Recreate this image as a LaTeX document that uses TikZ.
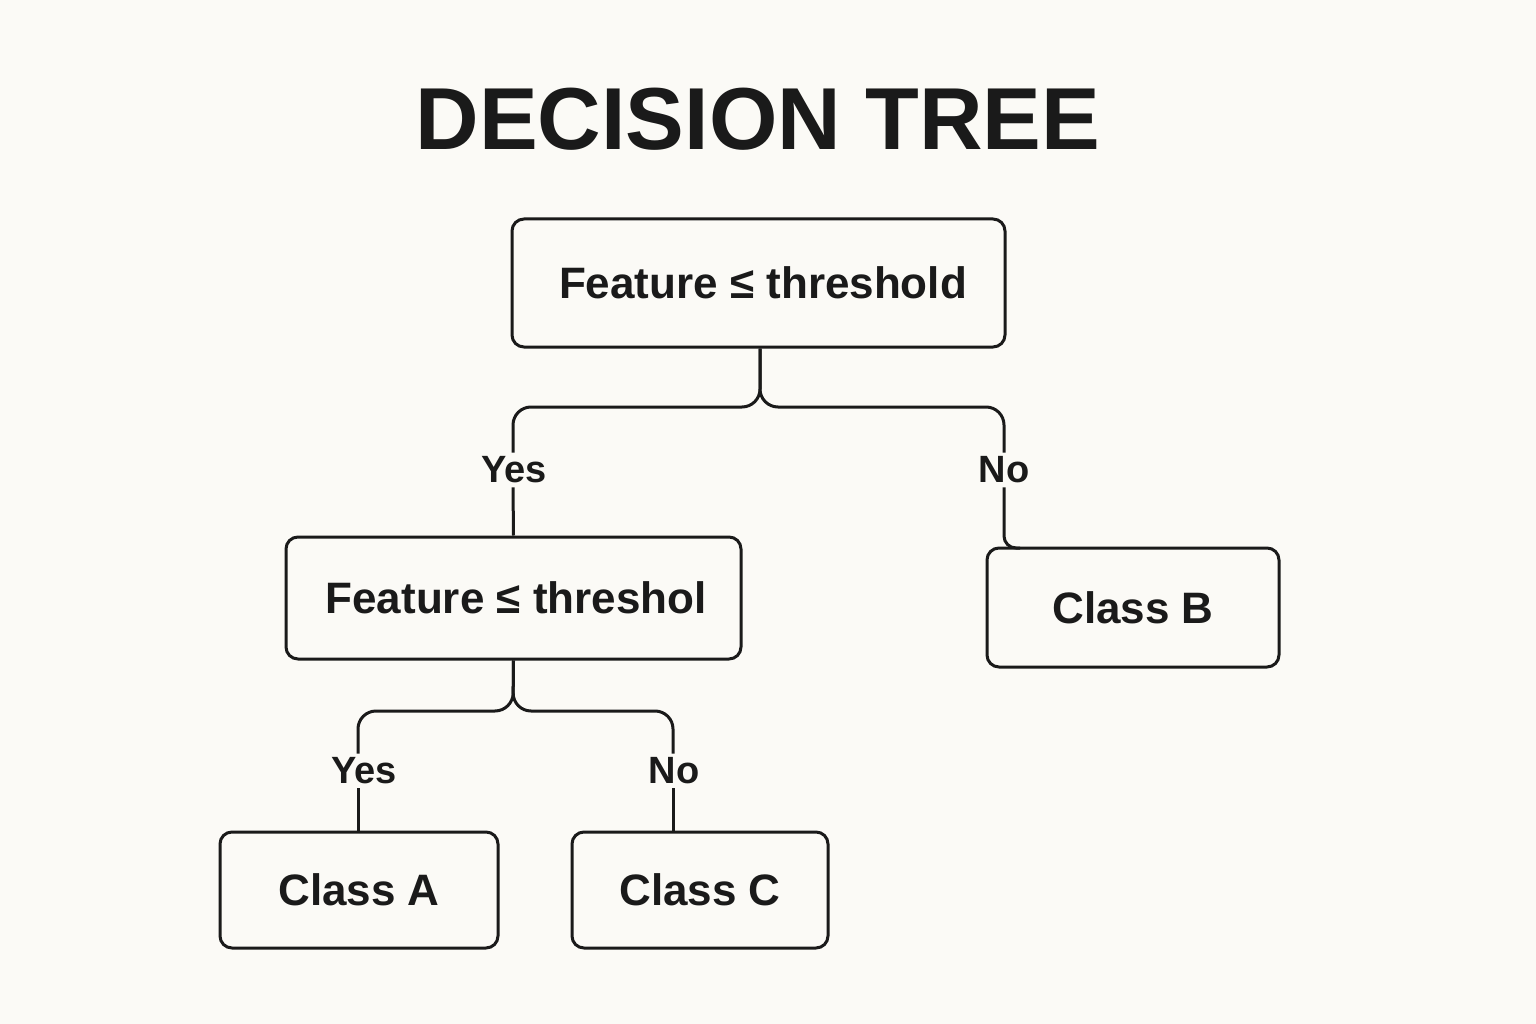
\documentclass[tikz,border=0pt]{standalone}
\usepackage{fontspec}
\setmainfont{Liberation Sans}
\begin{document}
\begin{tikzpicture}[x=1pt,y=-1pt,
  box/.style={draw=ink,line width=3pt,rounded corners=12pt,inner sep=0pt},
  txt/.style={font=\fontsize{44}{48}\selectfont\bfseries,text=ink},
  lbl/.style={font=\fontsize{38}{42}\selectfont\bfseries,text=ink,inner sep=4pt},
  conn/.style={draw=ink,line width=3pt,rounded corners=18pt}]
\definecolor{ink}{HTML}{1A1A1A}
\definecolor{bg}{HTML}{FBFAF6}
\fill[bg] (0,0) rectangle (1536,1024);
\useasboundingbox (0,0) rectangle (1536,1024);
\node[font=\fontsize{88}{92}\selectfont\bfseries,text=ink] (title) at (758,119) {DECISION TREE};
\node[box,minimum width=493pt,minimum height=128pt] (root) at (758.5,283) {};
\node[txt] (roott) at (763,283) {Feature ≤ threshold};
\node[box,minimum width=455pt,minimum height=122pt] (mid) at (513.5,598) {};
\node[txt,anchor=west] (midt) at (322,598) {Feature ≤ threshol};
\node[box,minimum width=292pt,minimum height=119pt] (cb) at (1133,607.5) {};
\node[txt] at (cb) {Class B};
\node[box,minimum width=278pt,minimum height=116pt] (ca) at (359,890) {};
\node[txt] at (ca) {Class A};
\node[box,minimum width=256pt,minimum height=116pt] (cc) at (700,890) {};
\node[txt] at (cc) {Class C};
\node[lbl] (y1) at (514,470) {Yes};
\node[lbl] (n1) at (1004,470) {No};
\node[lbl] (y2) at (364,771) {Yes};
\node[lbl] (n2) at (674,771) {No};
\coordinate (f1) at (760,407);
\coordinate (f2) at (513,711);
\draw[conn] (root.south -| f1) -- (f1) -| (y1.north -| 513,0);
\draw[conn] (root.south -| f1) -- (f1) -| (n1.north);
\draw[conn] (y1.south -| 513,0) -- (mid.north);
\draw[conn,rounded corners=12pt] (n1.south) -- (1004,548) -- (1020,548);
\draw[conn] (mid.south) -- (f2) -| (y2.north -| 358,0);
\draw[conn] (mid.south) -- (f2) -| (n2.north -| 673,0);
\draw[conn] (y2.south -| 358,0) -- (358,832);
\draw[conn] (n2.south -| 673,0) -- (673,832);
\end{tikzpicture}
\end{document}
